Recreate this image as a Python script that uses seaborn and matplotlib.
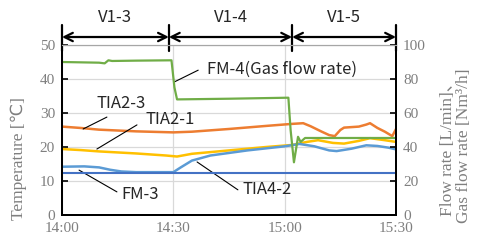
import numpy as np
import pandas as pd
import matplotlib
matplotlib.use("Agg")
import matplotlib.pyplot as plt
import seaborn as sns

# time in minutes after 14:00
tick_pos = [0, 30, 60, 90]
tick_lbl = ["14:00", "14:30", "15:00", "15:30"]

# FM-4 gas flow rate (right axis)
fm4_t = [0, 10, 11.5, 12.5, 13.5, 20, 29.5, 30.3, 31, 45, 61, 61.6, 62.5, 63.6, 64.3, 65.5, 75, 90]
fm4_v = [90, 89.6, 89.2, 91.0, 90.6, 90.8, 91, 75, 68, 68.4, 69, 50, 31, 46, 43, 45.3, 45.3, 45.3]

# FM-3 flow rate (right axis)
fm3_t = [0, 90]
fm3_v = [24.7, 24.7]

# TIA2-3 (left axis)
tia23_t = [0, 5, 10, 20, 30, 35, 45, 55, 62, 65, 67, 70, 72, 73.5, 75, 76, 80, 82, 83, 85, 87, 89, 90]
tia23_v = [26, 25.6, 25.1, 24.6, 24.3, 24.5, 25.3, 26.2, 26.8, 27, 26.1, 24.5, 23.5, 23.2, 25, 25.7, 26, 26.6, 27, 25.6, 24.5, 23.2, 25.3]

# TIA2-1 (left axis)
tia21_t = [0, 5, 10, 20, 28, 31, 35, 45, 55, 62, 66, 69, 73, 76, 80, 83, 87, 90]
tia21_v = [19.4, 19.1, 18.7, 18.1, 17.5, 17.2, 18, 19, 20, 20.6, 21.5, 22, 21.2, 21, 21.8, 22.6, 22, 21.5]

# TIA4-2 (left axis)
tia42_t = [0, 6, 10, 13, 16, 20, 30, 32, 35, 40, 50, 60, 64, 68, 72, 74, 78, 82, 85, 88, 90]
tia42_v = [14.2, 14.3, 14, 13.3, 12.8, 12.6, 12.6, 14, 16, 17.5, 19, 20.2, 20.9, 20.2, 19, 18.8, 19.5, 20.5, 20.3, 19.8, 19.3]

phase_edges = [0, 28.8, 62, 90]
phase_names = ["V1-3", "V1-4", "V1-5"]

gray = "#7f7f7f"
sns.set_style("white")

fig = plt.figure(figsize=(4.8, 2.45), dpi=100)
ax = fig.add_axes([62 / 480, 30 / 245, 334 / 480, 170 / 245])
ax2 = ax.twinx()

sns.lineplot(x=tia23_t, y=tia23_v, ax=ax, color="#ed7d31", lw=1.8)
sns.lineplot(x=tia21_t, y=tia21_v, ax=ax, color="#ffc000", lw=1.8)
sns.lineplot(x=tia42_t, y=tia42_v, ax=ax, color="#5b9bd5", lw=1.8)
sns.lineplot(x=fm4_t, y=fm4_v, ax=ax2, color="#70ad47", lw=1.6)
sns.lineplot(x=fm3_t, y=fm3_v, ax=ax2, color="#4472c4", lw=1.5)

ax.set_xlim(0, 90)
ax.set_ylim(0, 50)
ax2.set_ylim(0, 100)
ax.set_xticks(tick_pos)
ax.set_xticklabels(tick_lbl)
ax.set_yticks([0, 10, 20, 30, 40, 50])
ax2.set_yticks([0, 20, 40, 60, 80, 100])
ax.grid(True, color="#d9d9d9", lw=0.9)
ax.set_axisbelow(True)

serif = "Liberation Serif"
for a in (ax, ax2):
    a.tick_params(direction="in", length=4, width=1.2, color="black",
                  labelcolor=gray, labelsize=11, pad=5)
    for lab in a.get_xticklabels() + a.get_yticklabels():
        lab.set_family(serif)
    for s in ("left", "right", "bottom"):
        a.spines[s].set_color("black")
        a.spines[s].set_linewidth(1.4)
    a.spines["top"].set_color("#a6a6a6")
ax.tick_params(axis="y", right=False)
ax.tick_params(axis="x", top=False)
ax2.tick_params(axis="y", left=False)

ax.set_xlabel("")
ax.set_ylabel("Temperature [\u2103]", family=[serif, "DejaVu Sans"], color=gray, fontsize=12.5,
              va="center")
ax.yaxis.set_label_coords(-0.13, 0.33)
ax2.set_ylabel("Flow rate [L/min]\u3001\nGas flow rate [Nm\u00b3/h]", family=[serif, "Noto Sans CJK JP"],
               color=gray, fontsize=12.5, linespacing=1.0, rotation=90, va="center")
ax2.yaxis.set_label_coords(1.18, 0.41)

# phase arrows above the plot
tr = ax.get_xaxis_transform()
for e in phase_edges:
    ax.plot([e, e], [0.965, 1.12], transform=tr, color="black", lw=1.6, clip_on=False)
for i, name in enumerate(phase_names):
    x0, x1 = phase_edges[i], phase_edges[i + 1]
    ax.annotate("", xy=(x0, 1.047), xytext=(x1, 1.047), xycoords=tr, textcoords=tr,
                arrowprops=dict(arrowstyle="<->,head_length=0.6,head_width=0.3", color="black",
                                lw=1.6, shrinkA=0, shrinkB=0))
    ax.text((x0 + x1) / 2, 1.16, name, transform=tr, ha="center", va="center",
            fontsize=12, family="Noto Sans CJK JP")

# callouts
font_lbl = dict(fontsize=12, family="Noto Sans CJK JP", va="center")
callouts = [
    ("FM-4(Gas flow rate)", (30.2, 39.1), (36.7, 42.6), (39.0, 42.9), "left"),
    ("TIA2-3", (5.7, 25.3), (12.1, 28.8), (15.9, 32.9), "center"),
    ("TIA2-1", (9.4, 19.4), (20.2, 26.5), (29.1, 28.2), "center"),
    ("FM-3", (4.6, 13.2), (14.8, 6.8), (21.0, 5.9), "center"),
    ("TIA4-2", (36.4, 15.6), (47.4, 7.4), (55.3, 7.4), "center"),
]
for txt, p0, p1, pt, ha in callouts:
    ax.plot([p0[0], p1[0]], [p0[1], p1[1]], color="black", lw=0.8)
    ax.text(pt[0], pt[1], txt, ha=ha, **font_lbl)

fig.savefig("out.png", dpi=100)
